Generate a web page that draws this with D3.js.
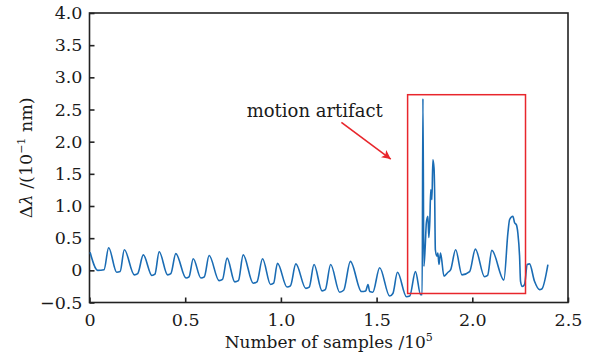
<!DOCTYPE html>
<html lang="en">
<head>
<meta charset="utf-8">
<title>motion artifact</title>
<script src="https://cdn.jsdelivr.net/npm/d3@7"></script>
<style>
  body { margin: 0; background: #fff; }
  text { font-family: "DejaVu Serif", serif; fill: #1a1a1a; }
</style>
</head>
<body>
<svg width="591" height="361"></svg>
<script>
// signal: samples (x 10^5), delta lambda (x 10^-1 nm)
const samples = [0.003,0.043,0.076,0.100,0.142,0.160,0.182,0.234,0.252,0.281,0.326,0.342,0.364,0.408,0.425,0.451,0.504,0.520,0.542,0.582,
  0.600,0.625,0.677,0.695,0.719,0.759,0.778,0.803,0.855,0.875,0.904,0.946,0.962,0.982,1.032,1.050,1.078,1.130,1.148,1.173,1.215,1.232,1.260,1.307,1.328,1.363,
  1.421,1.443,1.455,1.464,1.480,1.516,1.568,1.585,1.609,1.656,1.673,1.703,1.730,1.738,1.742,1.747,1.754,1.760,
  1.768,1.773,1.778,1.783,1.789,1.794,1.800,1.803,1.807,1.815,1.820,1.826,1.834,1.852,1.873,1.887,1.913,
  1.946,1.986,2.016,2.064,2.080,2.102,2.165,2.186,2.195,2.212,2.221,2.230,2.238,2.247,2.252,2.261,2.273,2.287,
  2.299,2.325,2.351,2.363,2.395];
const shift = [0.28,0.00,0.01,0.35,-0.03,-0.02,0.32,-0.07,-0.05,0.24,-0.08,-0.06,0.29,-0.07,-0.05,0.26,-0.12,-0.10,0.18,-0.12,
  -0.10,0.23,-0.16,-0.14,0.19,-0.18,-0.16,0.24,-0.20,-0.18,0.18,-0.22,-0.20,0.11,-0.26,-0.24,0.10,-0.28,-0.26,0.09,-0.32,-0.30,0.09,-0.34,-0.31,0.14,
  -0.33,-0.32,-0.22,-0.33,-0.34,0.04,-0.40,-0.36,-0.03,-0.41,-0.40,-0.02,-0.38,-0.38,2.67,0.06,0.37,0.74,
  0.84,0.51,0.76,1.25,1.10,1.72,1.59,1.25,0.32,0.22,0.27,0.09,0.27,-0.09,-0.03,0.01,0.32,
  -0.07,-0.02,0.33,-0.10,-0.08,0.31,-0.15,0.58,0.79,0.84,0.74,0.71,0.58,0.22,-0.17,-0.25,-0.22,0.09,
  0.10,-0.17,-0.30,-0.29,0.09];
const xTicks = [0, 0.5, 1.0, 1.5, 2.0, 2.5];
const yTicks = [-0.5, 0, 0.5, 1.0, 1.5, 2.0, 2.5, 3.0, 3.5, 4.0];
const xTickLabels = ["0", "0.5", "1.0", "1.5", "2.0", "2.5"];
const yTickLabels = ["\u22120.5", "0", "0.5", "1.0", "1.5", "2.0", "2.5", "3.0", "3.5", "4.0"];
const boxX = [1.662, 2.278];
const boxY = [-0.36, 2.73];
const arrowFrom = [1.316, 2.30];
const arrowTo = [1.574, 1.73];
const noteAt = [1.177, 2.39];
const noteText = "motion artifact";

const svg = d3.select("svg");
const x = d3.scaleLinear().domain([0, 2.5]).range([89.5, 568]);
const y = d3.scaleLinear().domain([-0.5, 4]).range([302.5, 13]);

// frame
svg.append("rect")
  .attr("x", x(0)).attr("y", y(4))
  .attr("width", x(2.5) - x(0)).attr("height", y(-0.5) - y(4))
  .attr("fill", "none").attr("stroke", "#222").attr("stroke-width", 1.6);

// axes, ticks pointing inward
const gx = svg.append("g").attr("transform", `translate(0,${y(-0.5)})`)
  .call(d3.axisBottom(x).tickValues(xTicks).tickSizeInner(-5).tickSizeOuter(0)
    .tickPadding(11).tickFormat((d, i) => xTickLabels[i]));
const gy = svg.append("g").attr("transform", `translate(${x(0)},0)`)
  .call(d3.axisLeft(y).tickValues(yTicks).tickSizeInner(-5).tickSizeOuter(0)
    .tickPadding(7).tickFormat((d, i) => yTickLabels[i]));
[gx, gy].forEach(g => {
  g.select(".domain").remove();
  g.selectAll(".tick line").attr("stroke", "#222").attr("stroke-width", 1.6);
  g.selectAll(".tick text").style("font-family", "DejaVu Serif, serif")
    .style("font-size", "17.5px").attr("fill", "#1a1a1a");
});

// signal
const line = d3.line().x(d => x(d[0])).y(d => y(d[1])).curve(d3.curveMonotoneX);
svg.append("path")
  .datum(samples.map((s, i) => [s, shift[i]]))
  .attr("d", line)
  .attr("fill", "none").attr("stroke", "#1a6cb4").attr("stroke-width", 1.6);

// annotation
svg.append("rect")
  .attr("x", x(boxX[0])).attr("y", y(boxY[1]))
  .attr("width", x(boxX[1]) - x(boxX[0])).attr("height", y(boxY[0]) - y(boxY[1]))
  .attr("fill", "none").attr("stroke", "#e8262c").attr("stroke-width", 1.5);

svg.append("defs").append("marker")
  .attr("id", "head").attr("viewBox", "0 0 10 10")
  .attr("refX", 10).attr("refY", 5)
  .attr("markerWidth", 10).attr("markerHeight", 9)
  .attr("markerUnits", "userSpaceOnUse")
  .attr("orient", "auto")
  .append("path").attr("d", "M0,0L10,5L0,10L2.5,5Z").attr("fill", "#e8262c");
svg.append("line")
  .attr("x1", x(arrowFrom[0])).attr("y1", y(arrowFrom[1]))
  .attr("x2", x(arrowTo[0])).attr("y2", y(arrowTo[1]))
  .attr("stroke", "#e8262c").attr("stroke-width", 1.6)
  .attr("marker-end", "url(#head)");

svg.append("text")
  .attr("x", x(noteAt[0])).attr("y", y(noteAt[1]))
  .attr("text-anchor", "middle").style("font-size", "18px")
  .text(noteText);

// axis titles
svg.append("text")
  .attr("x", (x(0) + x(2.5)) / 2).attr("y", 348)
  .attr("text-anchor", "middle").style("font-size", "17px")
  .text("Number of samples /10")
  .append("tspan").attr("dy", -7).style("font-size", "11px").text("5");

const yt = svg.append("text")
  .attr("transform", `translate(32,${(y(-0.5) + y(4)) / 2}) rotate(-90)`)
  .attr("text-anchor", "middle").style("font-size", "17.5px");
yt.append("tspan").text("\u0394");
yt.append("tspan").style("font-style", "italic").text("\u03bb");
yt.append("tspan").text(" /(10");
yt.append("tspan").attr("dy", -7).style("font-size", "11px").text("\u22121");
yt.append("tspan").attr("dy", 7).text(" nm)");
</script>
</body>
</html>
